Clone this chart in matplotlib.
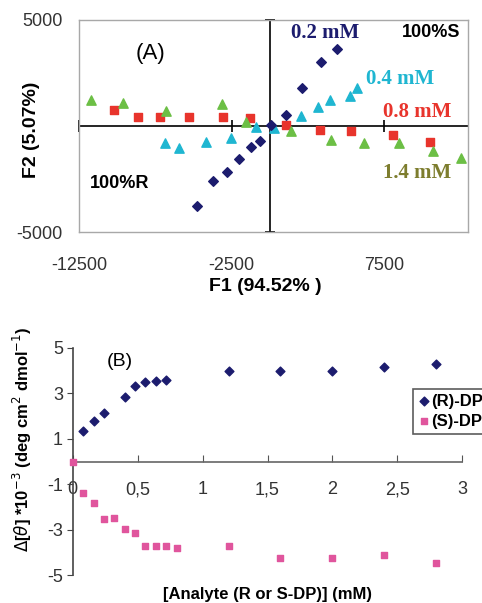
import numpy as np
import matplotlib.pyplot as plt

plt.rcParams['font.family'] = ['Liberation Sans', 'DejaVu Sans']
plt.rcParams['axes.unicode_minus'] = False

# panel A: score plot (F1, F2)
mm02_x = [4414, 3355, 2141, 1037, 110, -618, -1214, -1986, -2803, -3686, -4745]
mm02_y = [3618, 3036, 1809, 503, 31, -708, -991, -1557, -2171, -2580, -3759]
mm04_x = [5694, 5252, 3928, 3134, 2053, 265, -927, -2538, -4193, -5959, -6842]
mm04_y = [1777, 1431, 1227, 912, 456, -110, -63, -551, -739, -1022, -818]
mm08_x = [10483, 8055, 5297, 3311, 1037, -1280, -3090, -5297, -7173, -8652, -10218]
mm08_y = [-739, -425, -236, -189, 47, 362, 440, 440, 440, 440, 755]
mm14_x = [12536, 10704, 8497, 6180, 4039, 1390, -1545, -3156, -6776, -9645, -11741]
mm14_y = [-1526, -1180, -787, -787, -661, -236, 204, 1022, 708, 1070, 1227]
a_xticks = [-12500, -2500, 7500]
a_yticks = [-5000, 5000]

# panel B: CD signal vs analyte concentration
r_conc = [0.08, 0.16, 0.24, 0.40, 0.48, 0.56, 0.64, 0.72, 1.2, 1.6, 2.0, 2.4, 2.8]
r_val = [1.35, 1.80, 2.13, 2.82, 3.33, 3.50, 3.56, 3.59, 4.00, 4.00, 4.00, 4.15, 4.28]
s_conc = [0.0, 0.08, 0.16, 0.24, 0.32, 0.40, 0.48, 0.56, 0.64, 0.72, 0.80, 1.2, 1.6, 2.0, 2.4, 2.8]
s_val = [0.0, -1.36, -1.83, -2.52, -2.48, -2.95, -3.15, -3.72, -3.72, -3.72, -3.78, -3.72, -4.25, -4.25, -4.13, -4.47]
b_xticks = [0, 0.5, 1, 1.5, 2, 2.5, 3]
b_xlabels = ['0', '0,5', '1', '1,5', '2', '2,5', '3']
b_yticks = [-5, -3, -1, 1, 3, 5]

navy = '#1c1c6e'
cyan = '#1fb6d1'
red = '#e8342c'
green = '#6cbf45'
olive = '#7d7d2e'
pink = '#e0559d'

fig = plt.figure(figsize=(4.82, 6.03), dpi=100)

# ---- panel A
ax = fig.add_axes([0.164, 0.615, 0.807, 0.352])
ax.set_xlim(-12500, 13000)
ax.set_ylim(-5000, 5000)
for s in ax.spines.values():
    s.set_color('#a8a8a8')
    s.set_linewidth(1.0)
ax.axhline(0, color='black', lw=1.2, zorder=1)
ax.axvline(0, color='black', lw=1.2, zorder=1)
ax.plot(a_xticks, [0] * len(a_xticks), ls='none', marker='|', ms=9, mew=1.2, color='black', clip_on=False)
ax.plot([0] * len(a_yticks), a_yticks, ls='none', marker='_', ms=7, mew=1.2, color='black', clip_on=False)

ax.scatter(mm08_x, mm08_y, marker='s', s=30, color=red, zorder=3)
ax.scatter(mm14_x, mm14_y, marker='^', s=45, color=green, zorder=3)
ax.scatter(mm04_x, mm04_y, marker='^', s=45, color=cyan, zorder=3)
ax.scatter(mm02_x, mm02_y, marker='D', s=24, color=navy, zorder=4)

ax.set_xticks(a_xticks)
ax.set_yticks(a_yticks)
ax.tick_params(axis='x', length=0, pad=18, labelsize=13, labelcolor='#333333')
ax.tick_params(axis='y', length=0, pad=12, labelsize=13, labelcolor='#333333')
ax.set_xlabel('F1 (94.52% )', fontsize=14, fontweight='bold')
ax.set_ylabel('F2 (5.07%)', fontsize=14, fontweight='bold')
ax.xaxis.set_label_coords(0.48, -0.215)
ax.yaxis.set_label_coords(-0.10, 0.48)

tA = ax.transAxes
ax.text(0.183, 0.84, '(A)', transform=tA, fontsize=16, ha='center', va='center')
ax.text(0.105, 0.23, '100%R', transform=tA, fontsize=13, fontweight='bold', ha='center', va='center')
ax.text(0.905, 0.94, '100%S', transform=tA, fontsize=13, fontweight='bold', ha='center', va='center')
serif = ['Liberation Serif', 'DejaVu Serif']
ax.text(0.632, 0.94, '0.2 mM', transform=tA, fontsize=15, fontweight='bold', family=serif, color=navy, ha='center', va='center')
ax.text(0.825, 0.72, '0.4 mM', transform=tA, fontsize=15, fontweight='bold', family=serif, color=cyan, ha='center', va='center')
ax.text(0.87, 0.565, '0.8 mM', transform=tA, fontsize=15, fontweight='bold', family=serif, color=red, ha='center', va='center')
ax.text(0.87, 0.28, '1.4 mM', transform=tA, fontsize=15, fontweight='bold', family=serif, color=olive, ha='center', va='center')

# ---- panel B
bx = fig.add_axes([0.151, 0.046, 0.808, 0.377])
bx.set_xlim(0, 3)
bx.set_ylim(-5, 5)
bx.spines['top'].set_visible(False)
bx.spines['right'].set_visible(False)
bx.spines['bottom'].set_position(('data', 0))
bx.spines['bottom'].set_color('#666666')
bx.spines['left'].set_color('#444444')
bx.spines['bottom'].set_linewidth(1.2)
bx.spines['left'].set_linewidth(1.2)

bx.scatter(r_conc, r_val, marker='D', s=20, color=navy, zorder=3, label='(R)-DP', clip_on=False)
bx.scatter(s_conc, s_val, marker='s', s=22, color=pink, zorder=3, label='(S)-DP', clip_on=False)

bx.set_xticks(b_xticks)
bx.set_xticklabels(b_xlabels)
bx.set_yticks(b_yticks)
bx.tick_params(axis='x', direction='in', length=5, pad=14, labelsize=13, labelcolor='#333333', color='#555555')
bx.tick_params(axis='y', direction='out', length=4, pad=3, labelsize=13, labelcolor='#333333', color='#444444')
bx.set_xlabel('[Analyte (R or S-DP)] (mM)', fontsize=12, fontweight='bold')
bx.set_ylabel(r'$\Delta$[$\theta$] *10$^{-3}$ (deg cm$^{2}$ dmol$^{-1}$)', fontsize=12, fontweight='bold')
bx.xaxis.set_label_coords(0.50, -0.05)
bx.yaxis.set_label_coords(-0.10, 0.60)
bx.text(0.12, 0.94, '(B)', transform=bx.transAxes, fontsize=14, ha='center', va='center')

leg = bx.legend(loc='upper left', bbox_to_anchor=(0.873, 0.82), frameon=True, fancybox=False,
                prop={'weight': 'bold', 'size': 12}, handletextpad=0.0, borderpad=0.3,
                labelspacing=0.3, handlelength=0.8, borderaxespad=0)
leg.get_frame().set_edgecolor('#333333')
leg.get_frame().set_linewidth(1.2)

fig.savefig('out.png', dpi=100)
